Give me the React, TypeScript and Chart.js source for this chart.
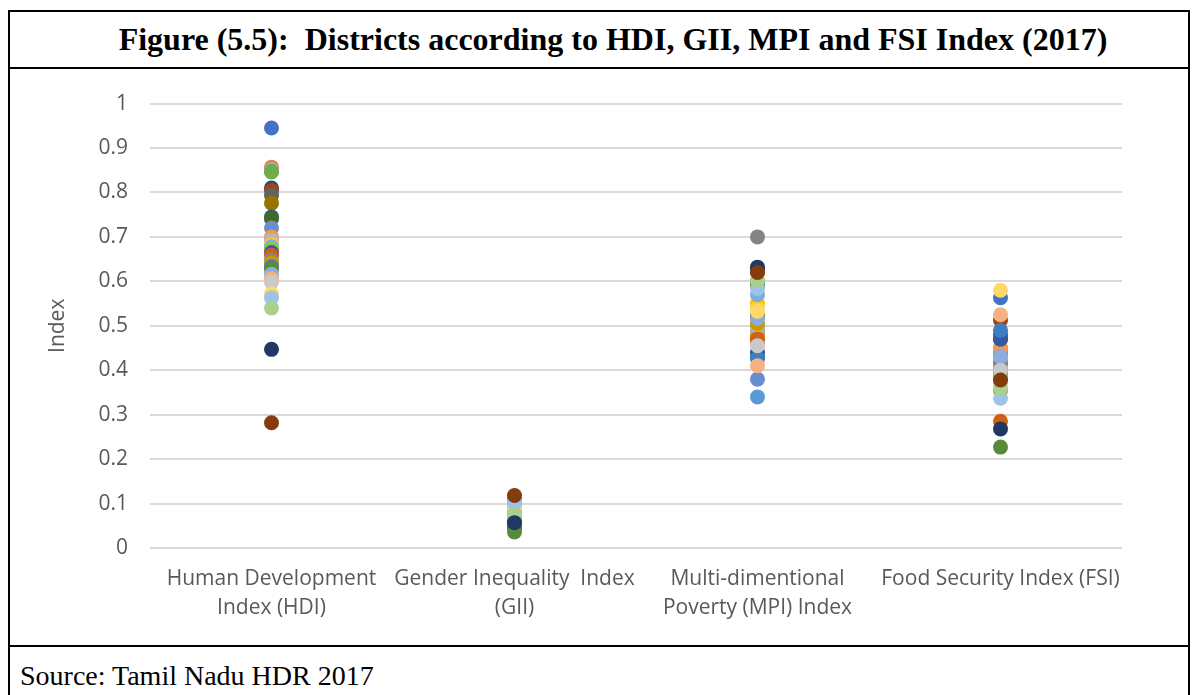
import React, { useEffect, useRef } from "react";
import { Chart, registerables } from "chart.js";

Chart.register(...registerables);

const categories: string[][] = [
  ["Human Development", "Index (HDI)"],
  ["Gender Inequality  Index", "(GII)"],
  ["Multi-dimentional", "Poverty (MPI) Index"],
  ["Food Security Index (FSI)"],
];

const yTickValues = [0, 0.1, 0.2, 0.3, 0.4, 0.5, 0.6, 0.7, 0.8, 0.9, 1];

const seriesColors = [
  "#4472C4", "#ED7D31", "#A5A5A5", "#FFC000", "#5B9BD5", "#70AD47",
  "#264478", "#9E480E", "#636363", "#997300", "#255E91", "#43682B",
  "#698ED0", "#F1975A", "#B7B7B7", "#FFCD33", "#7CAFDD", "#8CC168",
  "#335AA1", "#D26012", "#848484", "#CC9A00", "#3C7DC4", "#5A8A39",
  "#8FAADC", "#F4B183", "#C9C9C9", "#FFD966", "#9DC3E6", "#A9D18E",
  "#203864", "#843C0C",
];

const hdi = [
  0.945, 0.857, 0.852, 0.849, 0.848, 0.846, 0.81, 0.805, 0.793, 0.776, 0.745, 0.741,
  0.72, 0.7, 0.692, 0.682, 0.678, 0.674, 0.665, 0.659, 0.648, 0.641, 0.633, 0.628,
  0.616, 0.606, 0.598, 0.572, 0.563, 0.54, 0.447, 0.282,
];

const gii = [
  0.08, 0.09, 0.07, 0.1, 0.06, 0.05, 0.065, 0.11, 0.07, 0.085, 0.06, 0.045,
  0.08, 0.095, 0.07, 0.105, 0.075, 0.06, 0.07, 0.1, 0.08, 0.09, 0.065, 0.036,
  0.08, 0.095, 0.07, 0.09, 0.1, 0.075, 0.057, 0.118,
];

const mpi = [
  0.5, 0.48, 0.49, 0.55, 0.34, 0.6, 0.63, 0.62, 0.52, 0.47, 0.43, 0.59,
  0.38, 0.46, 0.5, 0.54, 0.57, 0.6, 0.44, 0.47, 0.7, 0.505, 0.427, 0.52,
  0.517, 0.41, 0.455, 0.533, 0.584, 0.602, 0.632, 0.62,
];

const fsi = [
  0.563, 0.45, 0.42, 0.355, 0.44, 0.4, 0.47, 0.512, 0.4, 0.38, 0.48, 0.39,
  0.435, 0.45, 0.41, 0.37, 0.43, 0.39, 0.47, 0.285, 0.415, 0.355, 0.49, 0.227,
  0.43, 0.525, 0.4, 0.58, 0.337, 0.36, 0.268, 0.378,
];

const FONT = "'Open Sans', sans-serif";
const GREY = "#595959";

function ChartBox() {
  const ref = useRef<HTMLCanvasElement | null>(null);
  useEffect(() => {
    if (!ref.current) return;
    const n = seriesColors.length;
    // Chart.js paints dataset 0 on top, so later series get a lower order to match Excel's stacking
    const datasets = seriesColors.map((c, i) => ({
      label: "District " + (i + 1),
      data: [hdi[i], gii[i], mpi[i], fsi[i]],
      showLine: false,
      pointRadius: 7.5,
      pointHoverRadius: 7.5,
      pointBorderWidth: 0,
      pointBackgroundColor: c,
      pointBorderColor: c,
      backgroundColor: c,
      borderColor: c,
      order: n - i,
    }));
    const chart = new Chart(ref.current, {
      type: "line",
      data: { labels: categories as any, datasets },
      options: {
        animation: false,
        responsive: false,
        maintainAspectRatio: false,
        events: [],
        layout: { padding: { top: 34, right: 66, bottom: 0, left: 0 } },
        plugins: { legend: { display: false }, tooltip: { enabled: false } },
        scales: {
          x: {
            type: "category",
            offset: true,
            grid: { display: false, drawTicks: false },
            border: { display: false },
            ticks: {
              color: GREY,
              font: { family: FONT, size: 21, lineHeight: 1.4 },
              padding: 16,
              maxRotation: 0,
              autoSkip: false,
            },
            afterFit: (s: any) => { s.height = 97; },
          },
          y: {
            min: 0,
            max: 1,
            afterBuildTicks: (s: any) => { s.ticks = yTickValues.map((v) => ({ value: v })); },
            grid: { color: "#d9d9d9", lineWidth: 2, drawTicks: false },
            border: { display: false },
            ticks: {
              color: GREY,
              font: { family: FONT, size: 21 },
              padding: 22,
              callback: (v: any) => String(Math.round(Number(v) * 10) / 10),
            },
            title: {
              display: true,
              text: "Index",
              color: GREY,
              font: { family: FONT, size: 21 },
              padding: { top: 35, bottom: 0 },
            },
            afterFit: (s: any) => { s.width = 140; },
          },
        },
      },
    });
    return () => chart.destroy();
  }, []);
  return <canvas ref={ref} width={1178} height={576} style={{ display: "block", width: 1178, height: 576 }} />;
}

export default function App() {
  return (
    <div
      style={{
        marginTop: 2,
        width: 1182,
        boxSizing: "border-box",
        border: "2px solid #000",
        borderBottom: "none",
        background: "#fff",
      }}
    >
      <div
        style={{
          height: 55,
          borderBottom: "2px solid #000",
          display: "flex",
          alignItems: "center",
          justifyContent: "center",
          paddingLeft: 28,
          fontFamily: "'Liberation Serif', 'Times New Roman', serif",
          fontWeight: "bold",
          fontSize: 32,
          whiteSpace: "pre",
          color: "#000",
        }}
      >
        {"Figure (5.5):  Districts according to HDI, GII, MPI and FSI Index (2017)"}
      </div>
      <ChartBox />
      <div
        style={{
          height: 50,
          borderTop: "2px solid #000",
          fontFamily: "'Liberation Serif', 'Times New Roman', serif",
          fontSize: 28,
          paddingLeft: 10,
          paddingTop: 13,
          boxSizing: "border-box",
          color: "#000",
        }}
      >
        Source: Tamil Nadu HDR 2017
      </div>
    </div>
  );
}
